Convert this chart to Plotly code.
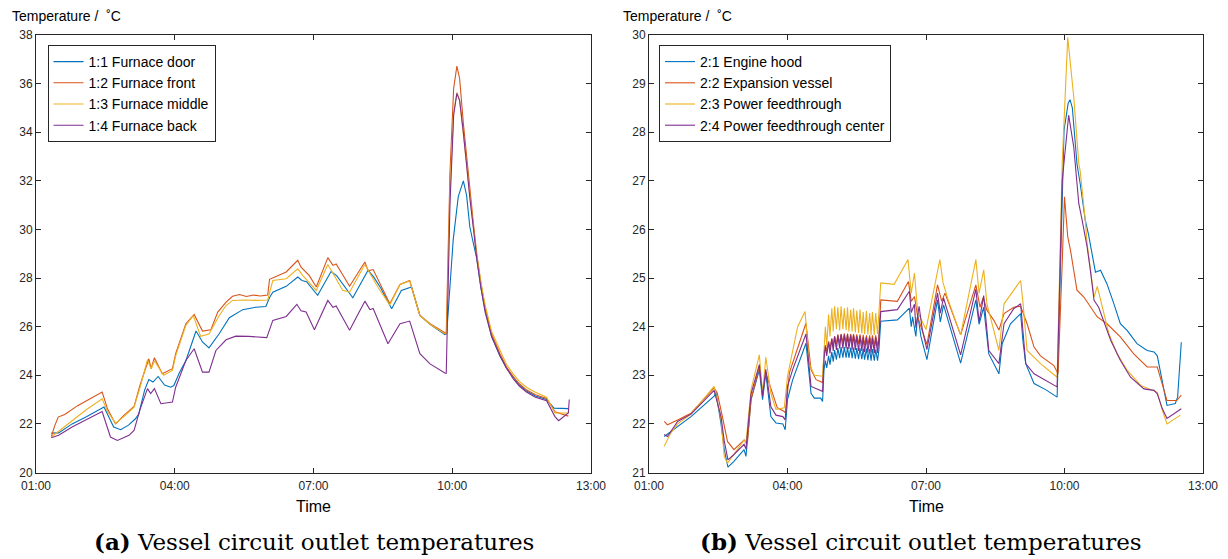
import plotly.graph_objects as go

# ---------------- data ----------------
x_tick_hours = [1, 4, 7, 10, 13]
x_tick_labels = ["01:00", "04:00", "07:00", "10:00", "13:00"]

names_a = ["1:1 Furnace door", "1:2 Furnace front", "1:3 Furnace middle", "1:4 Furnace back"]
names_b = ["2:1 Engine hood", "2:2 Expansion vessel", "2:3 Power feedthrough", "2:4 Power feedthrough center"]
colors = ["#0072BD", "#D95319", "#EDB120", "#7E2F8E"]

# (a) furnace circuit, time in hours
t_door = [1.33, 1.49, 1.78, 2.1, 2.47, 2.68, 2.83, 3.0, 3.15, 3.22, 3.35, 3.44, 3.53, 3.64, 3.78, 3.91, 3.98,
          4.1, 4.24, 4.46, 4.6, 4.74, 4.96, 5.18, 5.47, 5.75, 5.97, 6.05, 6.12, 6.41, 6.66, 6.75, 6.85, 7.09,
          7.38, 7.5, 7.85, 8.18, 8.3, 8.45, 8.69, 8.9, 9.12, 9.3, 9.52, 9.84, 9.88, 10.02, 10.13, 10.24, 10.31,
          10.38, 10.46, 10.53, 10.62, 10.71, 10.85, 11.03, 11.17, 11.32, 11.45, 11.61, 11.8, 12.04, 12.2, 12.51]
v_door = [21.62, 21.63, 22.0, 22.3, 22.69, 21.87, 21.76, 21.95, 22.21, 22.4, 23.4, 23.82, 23.72, 23.95, 23.6, 23.51, 23.58,
          24.1, 24.6, 25.82, 25.37, 25.13, 25.71, 26.37, 26.7, 26.8, 26.83, 27.2, 27.42, 27.66, 28.04, 27.9, 27.85, 27.29,
          28.27, 28.1, 27.19, 28.32, 28.05, 27.6, 26.74, 27.49, 27.63, 26.46, 26.1, 25.67, 25.72, 29.56, 31.35, 32.0, 31.4,
          30.1, 29.4, 28.8, 27.6, 26.7, 25.6, 24.8, 24.3, 23.9, 23.6, 23.35, 23.15, 23.0, 22.65, 22.63]

t_front = [1.33, 1.4, 1.48, 1.62, 1.9, 2.2, 2.43, 2.55, 2.72, 2.9, 3.12, 3.25, 3.44, 3.49, 3.56, 3.73, 3.95, 4.02,
           4.24, 4.42, 4.6, 4.78, 4.93, 5.11, 5.25, 5.4, 5.55, 5.7, 5.85, 6.01, 6.05, 6.41, 6.66, 6.73, 6.84, 6.91,
           7.06, 7.31, 7.42, 7.49, 7.78, 8.11, 8.18, 8.29, 8.65, 8.87, 9.08, 9.3, 9.52, 9.84, 9.87, 9.95, 10.03,
           10.1, 10.16, 10.24, 10.31, 10.38, 10.46, 10.53, 10.62, 10.71, 10.85, 11.03, 11.17, 11.32, 11.45, 11.61,
           11.8, 12.04, 12.22, 12.51]
v_front = [21.46, 21.9, 22.28, 22.39, 22.75, 23.05, 23.31, 22.6, 22.0, 22.35, 22.72, 23.6, 24.68, 24.27, 24.72, 24.06, 24.27, 24.89,
           26.12, 26.5, 25.82, 25.87, 26.6, 27.01, 27.25, 27.32, 27.24, 27.3, 27.26, 27.3, 27.95, 28.25, 28.73, 28.45, 28.25, 28.1,
           27.63, 28.84, 28.52, 28.58, 27.66, 28.66, 28.3, 28.35, 26.94, 27.74, 27.9, 26.46, 26.12, 25.74, 25.72, 32.3, 35.8,
           36.72, 36.2, 34.37, 33.0, 31.6, 30.2, 29.0, 27.8, 26.82, 25.7, 24.9, 24.35, 23.94, 23.65, 23.39,
           23.2, 23.05, 22.5, 22.32]

t_middle = [1.33, 1.78, 2.1, 2.43, 2.55, 2.72, 2.9, 3.12, 3.25, 3.41, 3.49, 3.56, 3.76, 3.95, 4.02, 4.24, 4.4, 4.56,
            4.74, 4.96, 5.11, 5.25, 5.5, 5.75, 6.01, 6.12, 6.41, 6.66, 6.77, 7.06, 7.31, 7.42, 7.63, 7.78, 8.11,
            8.22, 8.4, 8.65, 8.87, 9.08, 9.3, 9.52, 9.84, 9.88, 9.95, 10.03, 10.1, 10.16, 10.24, 10.31, 10.38, 10.46,
            10.53, 10.62, 10.71, 10.85, 11.03, 11.17, 11.32, 11.45, 11.61, 11.8, 12.04, 12.22, 12.51]
v_middle = [21.46, 22.14, 22.6, 23.03, 22.5, 22.03, 22.3, 22.69, 23.5, 24.64, 24.27, 24.6, 24.0, 24.2, 24.8, 26.05, 26.46, 25.6,
            25.7, 26.45, 26.87, 27.08, 27.1, 27.08, 27.1, 27.9, 27.97, 28.38, 28.1, 27.49, 28.56, 28.2, 27.5, 27.42, 28.56,
            28.2, 27.6, 26.9, 27.74, 27.88, 26.46, 26.1, 25.71, 25.75, 31.5, 34.8, 35.63, 35.3, 34.0, 32.7, 31.4, 30.1,
            28.9, 27.8, 26.9, 25.8, 25.0, 24.45, 24.05, 23.75, 23.5, 23.3, 23.1, 22.45, 22.45]

t_back = [1.33, 1.49, 1.78, 2.1, 2.43, 2.61, 2.76, 3.01, 3.12, 3.25, 3.41, 3.48, 3.56, 3.7, 3.95, 4.02, 4.24, 4.42,
          4.6, 4.74, 4.89, 5.11, 5.32, 5.6, 5.99, 6.12, 6.41, 6.64, 6.73, 6.84, 7.02, 7.31, 7.42, 7.49, 7.78, 8.11,
          8.22, 8.29, 8.61, 8.87, 9.08, 9.3, 9.52, 9.84, 9.87, 9.95, 10.03, 10.1, 10.16, 10.24, 10.31, 10.38, 10.46,
          10.53, 10.62, 10.71, 10.85, 11.03, 11.17, 11.32, 11.45, 11.61, 11.8, 12.04, 12.22, 12.3, 12.51, 12.53]
v_back = [21.43, 21.53, 21.87, 22.2, 22.51, 21.46, 21.32, 21.53, 21.73, 22.6, 23.45, 23.25, 23.45, 22.83, 22.9, 23.51, 24.61, 25.09,
          24.13, 24.13, 25.02, 25.46, 25.61, 25.6, 25.55, 26.26, 26.42, 26.92, 26.65, 26.6, 25.87, 27.08, 26.8, 26.85, 25.85, 27.05,
          26.7, 26.75, 25.3, 26.12, 26.23, 24.89, 24.47, 24.09, 24.08, 31.0, 34.7, 35.6, 35.3, 34.0, 32.6, 31.3, 30.0,
          28.8, 27.6, 26.6, 25.6, 24.8, 24.3, 23.85, 23.55, 23.3, 23.1, 22.95, 22.3, 22.13, 22.45, 23.0]

# (b) vessel circuit; the oscillating stretch shares one time list
t_osc = [4.82, 4.85, 4.89, 4.92, 4.96, 4.99, 5.02, 5.06, 5.09, 5.13, 5.16, 5.20, 5.23, 5.27, 5.30, 5.33, 5.37, 5.40,
         5.43, 5.47, 5.50, 5.54, 5.57, 5.61, 5.64, 5.67, 5.71, 5.74, 5.78, 5.81, 5.84, 5.88, 5.91, 5.95, 5.98]

t_hood_pre = [1.33, 1.62, 1.91, 2.41, 2.45, 2.56, 2.63, 2.71, 2.84, 3.06, 3.1, 3.21, 3.39, 3.46, 3.53, 3.64, 3.75, 3.9,
              3.95, 4.0, 4.11, 4.4, 4.51, 4.58, 4.72, 4.76, 4.79]
v_hood_pre = [21.74, 21.95, 22.15, 22.57, 22.65, 22.0, 21.47, 21.11, 21.23, 21.47, 21.33, 22.5, 23.11, 22.5, 23.05, 22.15, 22.02, 22.0,
              21.88, 22.5, 22.9, 23.66, 22.63, 22.53, 22.53, 22.46, 23.11]
v_hood_osc = [23.3, 23.15, 23.4, 23.22, 23.48, 23.28, 23.52, 23.32, 23.56, 23.35, 23.58, 23.36, 23.58, 23.36, 23.58, 23.36, 23.57, 23.35,
              23.57, 23.34, 23.56, 23.33, 23.56, 23.33, 23.55, 23.32, 23.55, 23.31, 23.54, 23.3, 23.54, 23.3, 23.53, 23.3, 23.52]
t_hood_post = [6.02, 6.38, 6.64, 6.68, 6.71, 6.78, 6.82, 6.89, 7.02, 7.25, 7.31, 7.38, 7.75, 8.08, 8.15, 8.25, 8.36, 8.58,
               8.65, 8.83, 9.05, 9.1, 9.16, 9.34, 9.6, 9.84, 9.91, 9.99, 10.08, 10.12, 10.17, 10.27, 10.34, 10.45, 10.52,
               10.6, 10.67, 10.78, 10.92, 11.07, 11.21, 11.36, 11.57, 11.79, 11.94, 12.01, 12.12, 12.22, 12.4, 12.45, 12.53]
v_hood_post = [24.11, 24.14, 24.38, 24.0, 24.2, 23.8, 24.25, 23.8, 23.32, 24.55, 24.1, 24.45, 23.25, 24.55, 24.05, 24.4, 23.44, 23.03,
               23.65, 24.06, 24.27, 23.7, 23.24, 22.83, 22.7, 22.55, 25.3, 28.04, 28.6, 28.67, 28.5, 27.35, 26.94, 26.19, 25.9,
               25.47, 25.12, 25.16, 24.88, 24.47, 24.06, 23.92, 23.65, 23.51, 23.48, 23.4, 22.9, 22.38, 22.42, 22.55, 23.68]

t_exp_pre = [1.33, 1.4, 1.62, 1.91, 2.41, 2.48, 2.59, 2.7, 2.84, 3.06, 3.13, 3.21, 3.39, 3.46, 3.53, 3.67, 3.78, 3.92,
             3.96, 4.04, 4.4, 4.51, 4.62, 4.76, 4.79]
v_exp_pre = [22.05, 21.98, 22.08, 22.22, 22.74, 22.63, 22.15, 21.64, 21.47, 21.67, 21.6, 22.5, 23.18, 22.63, 23.05, 22.63, 22.33, 22.26,
             22.23, 23.05, 24.07, 23.11, 22.91, 22.85, 23.45]
v_exp_osc = [23.62, 23.5, 23.7, 23.56, 23.76, 23.6, 23.8, 23.64, 23.84, 23.66, 23.85, 23.67, 23.86, 23.67, 23.86, 23.66, 23.85, 23.66,
             23.85, 23.65, 23.84, 23.64, 23.84, 23.63, 23.83, 23.62, 23.82, 23.62, 23.82, 23.61, 23.82, 23.6, 23.82, 23.6, 23.8]
t_exp_post = [6.02, 6.38, 6.62, 6.68, 6.75, 6.82, 7.02, 7.25, 7.34, 7.41, 7.75, 8.08, 8.17, 8.24, 8.32, 8.47, 8.58, 8.69,
              8.9, 9.05, 9.19, 9.34, 9.48, 9.77, 9.86, 9.95, 10.0, 10.07, 10.13, 10.2, 10.27, 10.42, 10.56, 10.71, 10.92,
              11.21, 11.5, 11.79, 12.01, 12.12, 12.22, 12.43, 12.53]
v_exp_post = [24.55, 24.52, 24.93, 24.52, 24.62, 24.2, 23.63, 24.86, 24.52, 24.69, 23.83, 24.86, 24.4, 24.6, 24.34, 24.13, 23.93, 24.27,
              24.4, 24.42, 24.06, 23.58, 23.4, 23.2, 23.03, 25.3, 26.67, 25.85, 25.57, 25.16, 24.75, 24.61, 24.4, 24.2, 24.06,
              23.79, 23.44, 23.17, 23.17, 22.83, 22.48, 22.48, 22.59]

t_feed_pre = [1.33, 1.47, 1.62, 1.91, 2.41, 2.56, 2.63, 2.7, 3.06, 3.1, 3.21, 3.39, 3.46, 3.53, 3.64, 3.75, 3.93, 4.0,
              4.22, 4.38, 4.47, 4.58, 4.76, 4.79]
v_feed_pre = [21.54, 21.81, 22.0, 22.2, 22.77, 22.1, 21.33, 21.19, 21.67, 21.6, 22.7, 23.42, 22.63, 23.37, 22.63, 22.3, 22.33, 22.98,
              24.0, 24.31, 23.25, 23.0, 22.98, 23.53]
v_feed_osc = [24.0, 23.6, 24.25, 23.8, 24.38, 23.9, 24.42, 23.95, 24.4, 23.92, 24.42, 23.95, 24.38, 23.93, 24.4, 23.9, 24.35, 23.9,
              24.38, 23.88, 24.33, 23.87, 24.35, 23.86, 24.3, 23.85, 24.32, 23.84, 24.28, 23.83, 24.3, 23.83, 24.28, 23.85, 24.25]
t_feed_post = [6.02, 6.31, 6.61, 6.68, 6.75, 6.82, 7.0, 7.3, 7.37, 7.48, 7.75, 8.08, 8.15, 8.25, 8.32, 8.47, 8.58, 8.69,
               8.9, 9.05, 9.1, 9.19, 9.48, 9.84, 9.95, 10.07, 10.2, 10.31, 10.34, 10.38, 10.45, 10.49, 10.56, 10.64, 10.71,
               10.82, 10.96, 11.14, 11.36, 11.65, 11.94, 12.01, 12.12, 12.22, 12.51]
v_feed_post = [24.9, 24.87, 25.38, 24.69, 25.1, 24.3, 23.94, 25.38, 24.9, 24.55, 23.83, 25.38, 24.69, 25.17, 24.47, 23.92, 23.51, 24.47,
               24.75, 24.95, 24.5, 23.51, 23.24, 22.96, 27.35, 29.95, 28.73, 27.35, 27.2, 26.87, 26.19, 25.71, 25.16, 24.61, 24.83,
               24.4, 23.86, 23.44, 23.1, 22.79, 22.69, 22.65, 22.28, 22.0, 22.18]

t_cent_pre = [1.33, 1.4, 1.62, 1.91, 2.41, 2.56, 2.63, 2.71, 2.84, 3.06, 3.1, 3.21, 3.39, 3.46, 3.53, 3.64, 3.75, 3.9,
              3.95, 4.0, 4.11, 4.4, 4.51, 4.58, 4.76, 4.79]
v_cent_pre = [21.78, 21.74, 22.05, 22.2, 22.69, 22.15, 21.65, 21.26, 21.37, 21.58, 21.48, 22.62, 23.22, 22.57, 23.12, 22.35, 22.18, 22.15,
              22.08, 22.77, 23.11, 23.85, 22.77, 22.74, 22.67, 23.32]
v_cent_osc = [23.6, 23.4, 23.68, 23.45, 23.75, 23.5, 23.8, 23.52, 23.82, 23.55, 23.84, 23.55, 23.83, 23.55, 23.84, 23.54, 23.82, 23.53,
              23.82, 23.52, 23.8, 23.5, 23.8, 23.5, 23.78, 23.48, 23.78, 23.47, 23.77, 23.47, 23.77, 23.46, 23.78, 23.46, 23.75]
t_cent_post = [6.02, 6.38, 6.64, 6.68, 6.75, 6.78, 6.85, 6.92, 7.02, 7.25, 7.31, 7.38, 7.75, 8.08, 8.15, 8.25, 8.36, 8.58,
               8.69, 8.9, 9.05, 9.16, 9.34, 9.84, 9.95, 10.09, 10.2, 10.31, 10.38, 10.49, 10.56, 10.64, 10.74, 10.85, 11.0,
               11.21, 11.43, 11.72, 11.94, 12.01, 12.12, 12.22, 12.53]
v_cent_post = [24.31, 24.35, 24.73, 24.29, 24.46, 23.98, 24.42, 23.94, 23.53, 24.69, 24.28, 24.59, 23.42, 24.77, 24.1, 24.64, 23.51, 23.24,
               24.06, 24.37, 24.47, 23.24, 23.03, 22.76, 27.0, 28.35, 27.7, 26.53, 26.2, 25.64, 25.16, 24.54, 24.4, 24.13, 23.72,
               23.31, 22.96, 22.72, 22.69, 22.62, 22.31, 22.11, 22.31]

# ---------------- figure ----------------
W, H = 1228, 559
AX = "#262626"
SANS = "Liberation Sans, Arial, Helvetica, sans-serif"
SERIF = "DejaVu Serif, Liberation Serif, serif"


def px(x):
    return x / W


def py(y):
    return 1 - y / H


series_a = [(t_door, v_door), (t_front, v_front), (t_middle, v_middle), (t_back, v_back)]
series_b = [
    (t_hood_pre + t_osc + t_hood_post, v_hood_pre + v_hood_osc + v_hood_post),
    (t_exp_pre + t_osc + t_exp_post, v_exp_pre + v_exp_osc + v_exp_post),
    (t_feed_pre + t_osc + t_feed_post, v_feed_pre + v_feed_osc + v_feed_post),
    (t_cent_pre + t_osc + t_cent_post, v_cent_pre + v_cent_osc + v_cent_post),
]

fig = go.Figure()
for (t, v), name, c in zip(series_a, names_a, colors):
    fig.add_trace(go.Scatter(x=t, y=v, mode="lines", name=name, line=dict(color=c, width=1.1),
                             xaxis="x", yaxis="y", legend="legend"))
for (t, v), name, c in zip(series_b, names_b, colors):
    fig.add_trace(go.Scatter(x=t, y=v, mode="lines", name=name, line=dict(color=c, width=1.1),
                             xaxis="x2", yaxis="y2", legend="legend2"))

ydom = [py(472.5), py(35)]
common_x = dict(range=[1, 13], tickvals=x_tick_hours, ticktext=x_tick_labels, showgrid=False, zeroline=False,
                showline=True, mirror="ticks", ticks="inside", ticklen=5, tickcolor=AX, linecolor=AX,
                linewidth=1, tickfont=dict(family=SANS, size=12, color=AX), automargin=False,
                ticklabelstandoff=2)
common_y = dict(showgrid=False, zeroline=False, showline=True, mirror="ticks", ticks="inside", ticklen=5,
                tickcolor=AX, linecolor=AX, linewidth=1, tickfont=dict(family=SANS, size=12, color=AX),
                automargin=False)

legend_style = dict(bgcolor="white", bordercolor=AX, borderwidth=1, font=dict(family=SANS, size=14, color="black"),
                    xanchor="left", yanchor="top", tracegroupgap=0, itemwidth=30)

fig.update_layout(
    width=W, height=H, margin=dict(l=0, r=0, t=0, b=0, autoexpand=False),
    paper_bgcolor="white", plot_bgcolor="white", showlegend=True,
    xaxis=dict(domain=[px(36), px(591)], anchor="y", **common_x),
    yaxis=dict(domain=ydom, anchor="x", range=[20, 38], dtick=2, tick0=20, **common_y),
    xaxis2=dict(domain=[px(649), px(1203)], anchor="y2", **common_x),
    yaxis2=dict(domain=ydom, anchor="x2", range=[21, 30], dtick=1, tick0=21, **common_y),
    legend=dict(x=px(47.5), y=py(45), **legend_style),
    legend2=dict(x=px(659), y=py(45), **legend_style),
)

annos = [
    dict(x=px(10), y=py(16), text="Temperature /  ˚C", xanchor="left", font=dict(family=SANS, size=14, color="black")),
    dict(x=px(621), y=py(16), text="Temperature /  ˚C", xanchor="left", font=dict(family=SANS, size=14, color="black")),
    dict(x=px(313.5), y=py(507), text="Time", font=dict(family=SANS, size=16, color="black")),
    dict(x=px(926), y=py(507), text="Time", font=dict(family=SANS, size=16, color="black")),
    dict(x=px(314), y=py(541), text="<b>(a)</b> Vessel circuit outlet temperatures",
         font=dict(family=SERIF, size=23, color="black")),
    dict(x=px(921), y=py(541), text="<b>(b)</b> Vessel circuit outlet temperatures",
         font=dict(family=SERIF, size=23, color="black")),
]
for a in annos:
    a.update(xref="paper", yref="paper", showarrow=False, yanchor="middle")
    a.setdefault("xanchor", "center")
    fig.add_annotation(**a)

fig.write_html("out.html", config={"displayModeBar": False},
               post_script="document.body.style.margin='0px';")
